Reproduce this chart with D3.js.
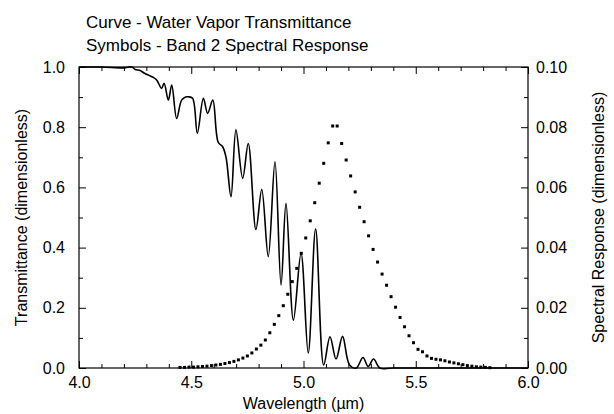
<!DOCTYPE html>
<meta charset="utf-8">
<script src="https://d3js.org/d3.v7.min.js"></script>
<style>
  body { margin: 0; background: #fff; }
  text { font-family: "Liberation Sans", Arial, sans-serif; fill: #000; }
</style>
<div id="chart"></div>
<script>
// water vapor transmittance curve
const curveWave = [4.00, 4.10, 4.20, 4.235, 4.25, 4.272, 4.29, 4.309, 4.33, 4.346, 4.368, 4.379, 4.398, 4.413, 4.435,
  4.457, 4.475, 4.487, 4.506, 4.527, 4.554, 4.573, 4.596, 4.620, 4.640, 4.655, 4.677, 4.699, 4.729, 4.754,
  4.788, 4.814, 4.843, 4.873, 4.900, 4.922, 4.955, 4.989, 5.021, 5.054, 5.090, 5.118, 5.145, 5.174, 5.205,
  5.235, 5.265, 5.288, 5.312, 5.340, 5.400, 6.00];
const curveTrans = [1.0, 1.0, 0.997, 1.0, 0.992, 0.988, 0.980, 0.973, 0.966, 0.957, 0.929, 0.946, 0.890, 0.940, 0.829,
  0.890, 0.900, 0.901, 0.896, 0.780, 0.896, 0.846, 0.890, 0.750, 0.735, 0.700, 0.569, 0.791, 0.630, 0.746,
  0.460, 0.593, 0.370, 0.685, 0.276, 0.547, 0.159, 0.381, 0.050, 0.462, 0.010, 0.104, 0.030, 0.105, 0.010,
  0.000, 0.035, 0.005, 0.030, 0.000, 0.000, 0.000];

// band 2 spectral response symbols
const respWave = [4.45, 4.47, 4.49, 4.51, 4.53, 4.55, 4.57, 4.59, 4.61, 4.63, 4.65, 4.67, 4.69, 4.71, 4.73,
  4.75, 4.77, 4.79, 4.81, 4.83, 4.85, 4.87, 4.89, 4.91, 4.93, 4.95, 4.97, 4.99, 5.01, 5.03,
  5.05, 5.07, 5.09, 5.11, 5.13, 5.15, 5.17, 5.19, 5.21, 5.23, 5.25, 5.27, 5.29, 5.31, 5.33,
  5.35, 5.37, 5.39, 5.41, 5.43, 5.45, 5.47, 5.49, 5.51, 5.53, 5.55, 5.57, 5.59, 5.61, 5.63,
  5.65, 5.67, 5.69, 5.71, 5.73, 5.75, 5.77, 5.79, 5.81, 5.83];
const respValue = [0.0002, 0.0002, 0.0003, 0.0003, 0.0004, 0.0005, 0.0006, 0.0008, 0.0010, 0.0012, 0.0015, 0.0018, 0.0022, 0.0027, 0.0033,
  0.0040, 0.0050, 0.0063, 0.0076, 0.0093, 0.0117, 0.0145, 0.0174, 0.0207, 0.0245, 0.0287, 0.0331, 0.0381, 0.0432, 0.0489,
  0.0549, 0.0614, 0.0680, 0.0748, 0.0804, 0.0804, 0.0746, 0.0691, 0.0638, 0.0585, 0.0534, 0.0486, 0.0439, 0.0394, 0.0352,
  0.0312, 0.0275, 0.0237, 0.0202, 0.0168, 0.0137, 0.0107, 0.0084, 0.0062, 0.0054, 0.0040, 0.0032, 0.0029, 0.0027, 0.0024,
  0.0020, 0.0017, 0.0014, 0.0011, 0.0008, 0.0006, 0.0004, 0.0003, 0.0002, 0.0001];

const xTicks = [4.0, 4.5, 5.0, 5.5, 6.0];
const xMinor = [4.1, 4.2, 4.3, 4.4, 4.6, 4.7, 4.8, 4.9, 5.1, 5.2, 5.3, 5.4, 5.6, 5.7, 5.8, 5.9];
const yLeftTicks = [0.0, 0.2, 0.4, 0.6, 0.8, 1.0];
const yLeftMinor = [0.1, 0.3, 0.5, 0.7, 0.9];
const yRightTicks = [0.00, 0.02, 0.04, 0.06, 0.08, 0.10];
const yRightMinor = [0.01, 0.03, 0.05, 0.07, 0.09];
const titleLines = ["Curve - Water Vapor Transmittance", "Symbols - Band 2 Spectral Response"];

const margin = {top: 67, right: 86, bottom: 46, left: 79},
    width = 614 - margin.left - margin.right,
    height = 414 - margin.top - margin.bottom;

const svg = d3.select("#chart")
  .append("svg")
    .attr("width", 614)
    .attr("height", 414)
  .append("g")
    .attr("transform", `translate(${margin.left},${margin.top})`);

const x = d3.scaleLinear().domain([4, 6]).range([0, width]);
const yL = d3.scaleLinear().domain([0, 1]).range([height, 0]);
const yR = d3.scaleLinear().domain([0, 0.1]).range([height, 0]);

// axes, ticks pointing inward
function addAxis(axis, transform, minor) {
  const g = svg.append("g").attr("transform", transform).call(axis);
  g.select(".domain").remove();
  g.selectAll("text").style("font-size", "16px").style("font-family", '"Liberation Sans", Arial, sans-serif');
  if (minor) g.selectAll("text").remove();
  return g;
}

addAxis(d3.axisBottom(x).tickValues(xTicks).tickFormat(d3.format(".1f")).tickSize(-7).tickPadding(9).tickSizeOuter(0), `translate(0,${height})`);
addAxis(d3.axisBottom(x).tickValues(xMinor).tickSize(-4).tickSizeOuter(0), `translate(0,${height})`, true);
addAxis(d3.axisTop(x).tickValues(xTicks).tickSize(-7).tickSizeOuter(0), "translate(0,0)", true);
addAxis(d3.axisTop(x).tickValues(xMinor).tickSize(-4).tickSizeOuter(0), "translate(0,0)", true);

addAxis(d3.axisLeft(yL).tickValues(yLeftTicks).tickFormat(d3.format(".1f")).tickSize(-7).tickPadding(14).tickSizeOuter(0), "translate(0,0)");
addAxis(d3.axisLeft(yL).tickValues(yLeftMinor).tickSize(-4).tickSizeOuter(0), "translate(0,0)", true);

addAxis(d3.axisRight(yR).tickValues(yRightTicks).tickFormat(d3.format(".2f")).tickSize(-7).tickPadding(8).tickSizeOuter(0), `translate(${width},0)`);
addAxis(d3.axisRight(yR).tickValues(yRightMinor).tickSize(-4).tickSizeOuter(0), `translate(${width},0)`, true);

// frame
svg.append("rect")
  .attr("width", width)
  .attr("height", height)
  .attr("fill", "none")
  .attr("stroke", "#000")
  .attr("stroke-width", 1.2);

// transmittance curve
const curveData = curveWave.map((w, i) => [w, curveTrans[i]]);
svg.append("path")
  .datum(curveData)
  .attr("fill", "none")
  .attr("stroke", "#000")
  .attr("stroke-width", 1.6)
  .attr("d", d3.line().x(d => x(d[0])).y(d => yL(d[1])).curve(d3.curveCatmullRom.alpha(0.5)));

// spectral response symbols
const respData = respWave.map((w, i) => [w, respValue[i]]);
svg.selectAll(".sym")
  .data(respData)
  .join("rect")
    .attr("class", "sym")
    .attr("x", d => x(d[0]) - 1.5)
    .attr("y", d => yR(d[1]) - 1.5)
    .attr("width", 3)
    .attr("height", 3)
    .attr("fill", "#000");

// titles
svg.selectAll(".title")
  .data(titleLines)
  .join("text")
    .attr("class", "title")
    .attr("x", 7)
    .attr("y", (d, i) => -39 + i * 23)
    .style("font-size", "17px")
    .text(d => d);

// axis labels
svg.append("text")
  .attr("text-anchor", "middle")
  .attr("x", width / 2)
  .attr("y", height + 41)
  .style("font-size", "16px")
  .text("Wavelength (µm)");

svg.append("text")
  .attr("text-anchor", "middle")
  .attr("transform", `translate(${-52},${height / 2}) rotate(-90)`)
  .style("font-size", "16px")
  .text("Transmittance (dimensionless)");

svg.append("text")
  .attr("text-anchor", "middle")
  .attr("transform", `translate(${width + 76},${height / 2}) rotate(-90)`)
  .style("font-size", "16px")
  .text("Spectral Response (dimensionless)");
</script>
